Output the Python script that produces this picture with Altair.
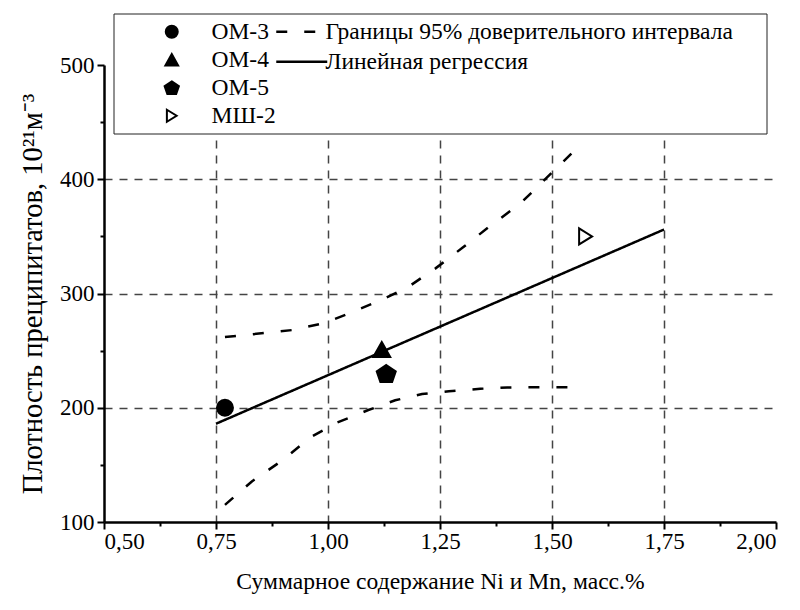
import altair as alt
import pandas as pd

# ---- data ----
sample_names = ["ОМ-3", "ОМ-4", "ОМ-5", "МШ-2"]
sample_x = [0.77, 1.12, 1.13, 1.575]
sample_y = [200, 251, 230, 350]

ci_name = "Границы 95% доверительного интервала"
reg_name = "Линейная регрессия"

reg_x = [0.75, 1.75]
reg_y = [186, 356]

ci_upper_x = [0.77, 0.80, 0.86, 0.92, 0.99, 1.05, 1.12, 1.18, 1.24, 1.30, 1.36, 1.43, 1.49, 1.55]
ci_upper_y = [262, 263, 265.5, 268, 274, 283, 294.5, 306, 322, 340, 358.5, 379, 402, 425]
ci_lower_x = [0.77, 0.83, 0.90, 0.96, 1.02, 1.09, 1.15, 1.21, 1.27, 1.34, 1.40, 1.46, 1.55]
ci_lower_y = [115, 135.5, 154.5, 174, 187, 198, 206.5, 212, 214.5, 216.6, 217.8, 218, 218]

x_ticks = [0.5 + 0.125 * i for i in range(13)]
y_ticks = [100 + 50 * i for i in range(9)]

# ---- tables ----
points = pd.DataFrame({"name": sample_names, "x": sample_x, "y": sample_y})

rows = []
for xv, yv in zip(reg_x, reg_y):
    rows.append({"series": reg_name, "part": "reg", "x": xv, "y": yv})
for xv, yv in zip(ci_upper_x, ci_upper_y):
    rows.append({"series": ci_name, "part": "upper", "x": xv, "y": yv})
for xv, yv in zip(ci_lower_x, ci_lower_y):
    rows.append({"series": ci_name, "part": "lower", "x": xv, "y": yv})
lines = pd.DataFrame(rows)

FONT = "Liberation Serif"

PENT = "M0,-1.06L1.19,-0.25L0.735,1.06L-0.735,1.06L-1.19,-0.25Z"
TRI_UP = "M0,-0.94L1.06,0.94L-1.06,0.94Z"
TRI_RIGHT = "M-0.81,-1L0.81,0L-0.81,1Z"
LONG_STROKE = "M-2.55,0L2.55,0"

x_major = "abs(datum.value*4 - round(datum.value*4)) < 0.001"
y_major = "datum.value % 100 === 0"

x_axis = alt.Axis(
    values=x_ticks,
    labelExpr=f"({x_major}) ? replace(format(datum.value, '.2f'), '.', ',') : ''",
    tickSize={"condition": {"test": x_major, "value": 7}, "value": 4},
    gridOpacity={"condition": {"test": f"({x_major}) && datum.value > 0.6 && datum.value < 1.9", "value": 1}, "value": 0},
    title="Суммарное содержание Ni и Mn, масс.%",
    titleFontSize=23.6,
    titlePadding=16,
    labelPadding=1,
)
y_axis = alt.Axis(
    values=y_ticks,
    labelExpr=f"({y_major}) ? datum.label : ''",
    tickSize={"condition": {"test": y_major, "value": 7}, "value": 4},
    gridOpacity={"condition": {"test": f"({y_major}) && datum.value > 150 && datum.value < 450", "value": 1}, "value": 0},
    title="Плотность преципитатов, 10²¹м⁻³",
    titleFontSize=28.5,
    titleX=-57,
    labelPadding=3,
)

xs = alt.Scale(domain=[0.5, 2.0], nice=False, zero=False)
ys = alt.Scale(domain=[100, 500], nice=False, zero=False)

box = alt.Chart(pd.DataFrame({"a": [0]})).mark_rect(
    fill="white", stroke="#222", strokeWidth=1
).encode(
    x=alt.value(10), x2=alt.value(663), y=alt.value(-51), y2=alt.value(69)
)

line_layer = alt.Chart(lines).mark_line(color="black", strokeWidth=2.5).encode(
    x=alt.X("x:Q", scale=xs, axis=x_axis),
    y=alt.Y("y:Q", scale=ys, axis=y_axis),
    detail="part:N",
    strokeDash=alt.StrokeDash(
        "series:N",
        scale=alt.Scale(domain=[ci_name, reg_name], range=[[11, 17], [1, 0]]),
        legend=alt.Legend(
            orient="none", legendX=186, legendY=-45, title=None,
            symbolType=LONG_STROKE, symbolSize=400, symbolStrokeWidth=2.5,
            symbolStrokeColor="black", symbolFillColor="transparent",
            labelFont=FONT, labelFontSize=23.5, labelColor="black",
            labelOffset=12, labelLimit=600, rowPadding=5, padding=0,
        ),
    ),
)

shape_legend = alt.Legend(
    orient="none", legendX=56, legendY=-45, title=None,
    symbolSize=144, symbolStrokeWidth=2, symbolStrokeColor="black",
    labelFont=FONT, labelFontSize=23.5, labelColor="black",
    labelOffset=28, labelLimit=300, rowPadding=3, padding=0,
)

point_layer = alt.Chart(points).mark_point(
    strokeWidth=2, opacity=1, size=256
).encode(
    x=alt.X("x:Q", scale=xs),
    y=alt.Y("y:Q", scale=ys),
    shape=alt.Shape(
        "name:N",
        scale=alt.Scale(domain=sample_names, range=["circle", TRI_UP, PENT, TRI_RIGHT]),
        legend=shape_legend,
    ),
    fill=alt.Fill(
        "name:N",
        scale=alt.Scale(domain=sample_names, range=["black", "black", "black", "white"]),
        legend=shape_legend,
    ),
    stroke=alt.Stroke(
        "name:N",
        scale=alt.Scale(domain=sample_names, range=["black", "black", "black", "black"]),
        legend=shape_legend,
    ),
)

chart = alt.layer(box, line_layer, point_layer).properties(
    width=672,
    height=457,
    padding={"left": 96, "top": 57, "right": 16, "bottom": 80},
    autosize=alt.AutoSizeParams(type="none"),
).configure_view(stroke=None).configure_axis(
    domainColor="black", domainWidth=2.5,
    tickColor="black", tickWidth=2,
    labelFont=FONT, labelFontSize=23, labelColor="black",
    titleFont=FONT, titleFontSize=24, titleFontWeight="normal", titleColor="black",
    gridColor="#444", gridDash=[8, 7], gridWidth=1.5,
)

chart.save("out.html", embed_options={"renderer": "svg", "actions": False})
